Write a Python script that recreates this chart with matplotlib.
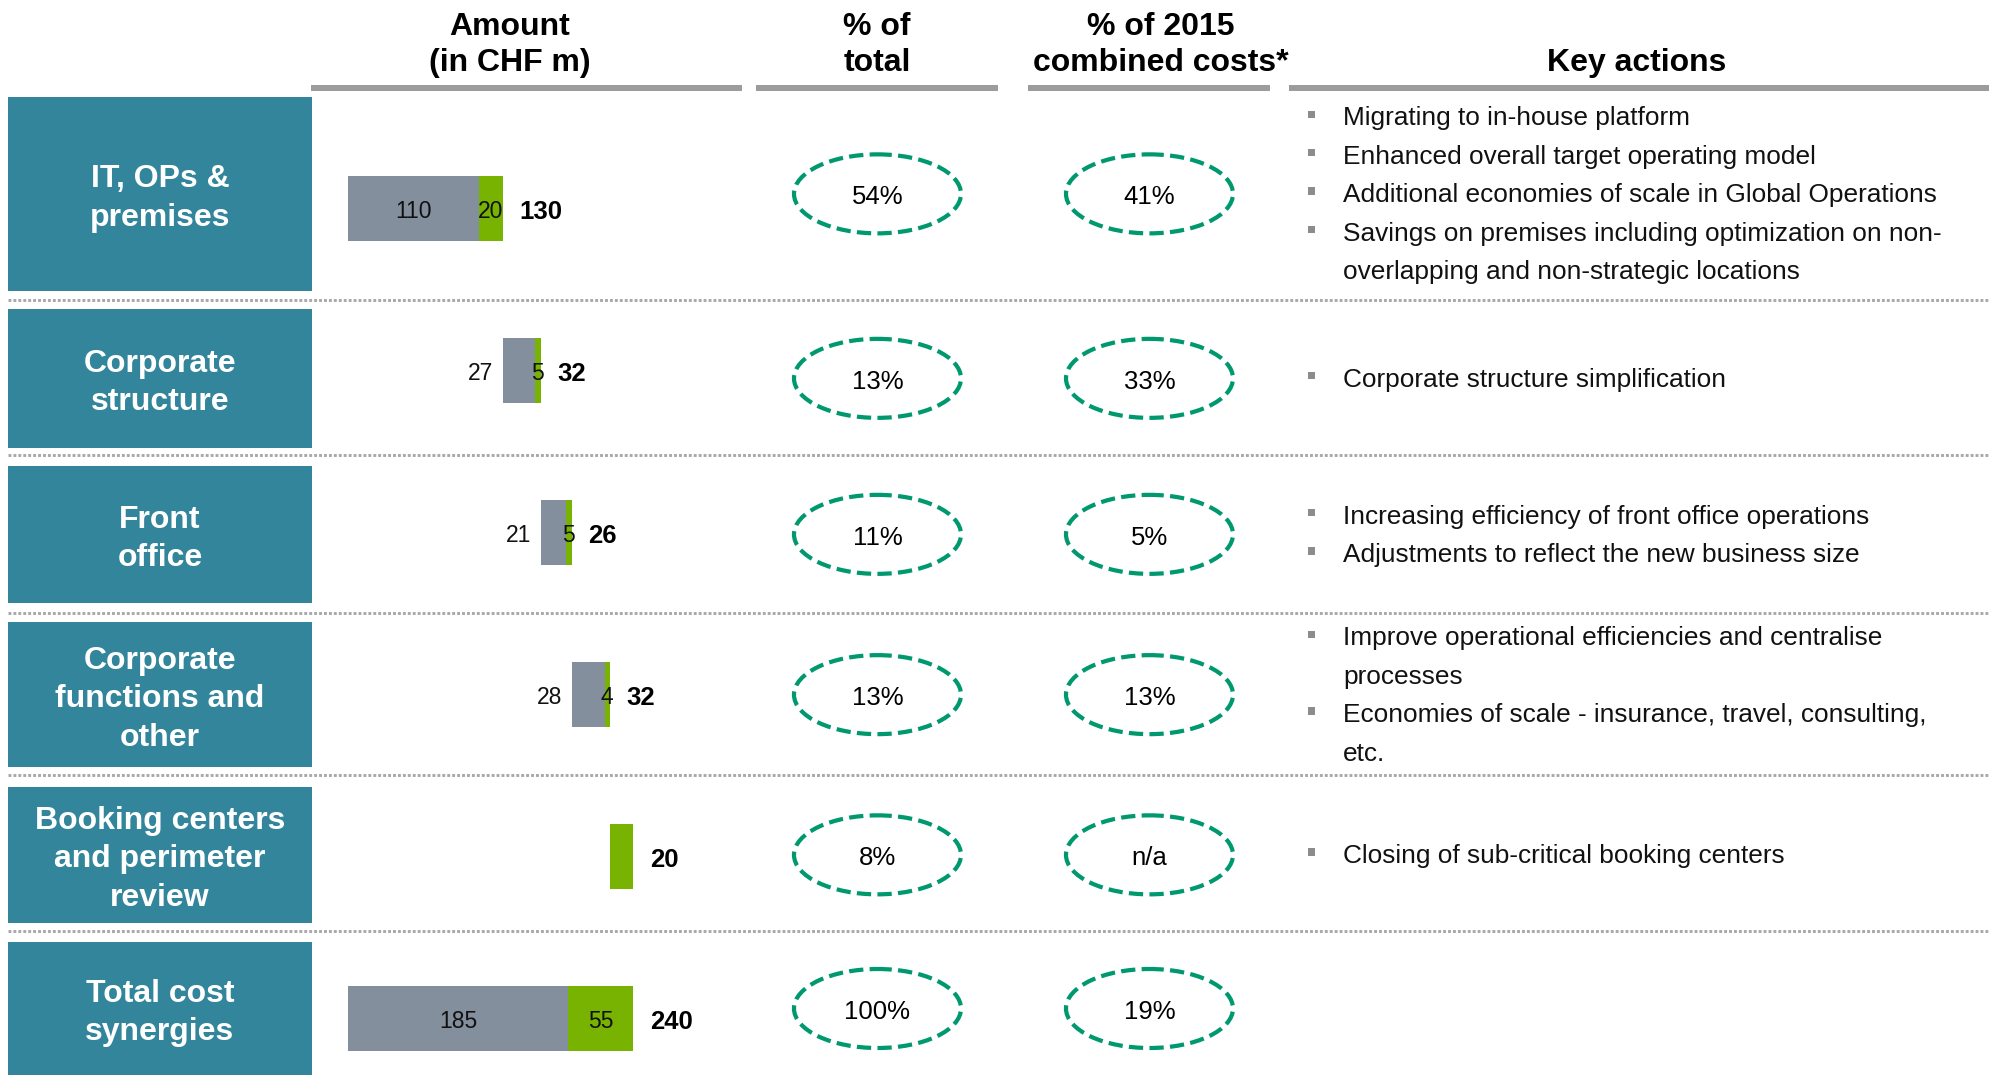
import matplotlib
matplotlib.use("Agg")
import matplotlib.pyplot as plt
from matplotlib.patches import Rectangle, Ellipse

plt.rcParams['font.family'] = ['Liberation Sans', 'DejaVu Sans']

# Cost synergies by area (CHF m): base part + additional part
categories = ["IT, OPs &\npremises", "Corporate\nstructure", "Front\noffice",
              "Corporate\nfunctions and\nother", "Booking centers\nand perimeter\nreview",
              "Total cost\nsynergies"]
base_amount = [110, 27, 21, 28, 0, 185]
extra_amount = [20, 5, 5, 4, 20, 55]
share_of_total = ["54%", "13%", "11%", "13%", "8%", "100%"]
share_of_2015 = ["41%", "33%", "5%", "13%", "n/a", "19%"]
key_actions = [
    ["Migrating to in-house platform",
     "Enhanced overall target operating model",
     "Additional economies of scale in Global Operations",
     "Savings on premises including optimization on non-\noverlapping and non-strategic locations"],
    ["Corporate structure simplification"],
    ["Increasing efficiency of front office operations",
     "Adjustments to reflect the new business size"],
    ["Improve operational efficiencies and centralise\nprocesses",
     "Economies of scale - insurance, travel, consulting,\netc."],
    ["Closing of sub-critical booking centers"],
    [],
]
column_headers = ["Amount\n(in CHF m)", "% of\ntotal", "% of 2015\ncombined costs*", "Key actions"]

TEAL = "#32859B"
GRAY_BAR = "#848F9D"
GREEN_BAR = "#77B300"
RING = "#00986F"
RULE = "#9C9C9C"

W, H = 1990, 1076
DPI = 100
PX = DPI / 72.0  # pixels per point
BODY = 18.9

fig = plt.figure(figsize=(W / DPI, (H - 0.01) / DPI), dpi=DPI)
fig.patch.set_facecolor("white")

# page layer in pixel units (y down)
lay = fig.add_axes([0, 0, 1, 1])
lay.set_xlim(0, W)
lay.set_ylim(H, 0)
lay.axis("off")


def stacked_lines(x, center, text, pitch, size, **kw):
    lines = text.split("\n")
    n = len(lines)
    cap = 0.358 * size * PX
    for k, line in enumerate(lines):
        y = center + (k - (n - 1) / 2) * pitch + cap
        lay.text(x, y, line, fontsize=size, va="baseline", **kw)


# column headers and their grey rules
head_x = [510, 877, 1161, 1637]
rule_spans = [(311, 742), (756, 998), (1028, 1270), (1289, W)]
for hx, label in zip(head_x, column_headers):
    lines = label.split("\n")
    if len(lines) == 1:
        lines = ["", lines[0]]
    for k, line in enumerate(lines):
        lay.text(hx, 35 + 36 * k, line, fontsize=23, fontweight="bold",
                 ha="center", va="baseline", color="black")
for x0, x1 in rule_spans:
    lay.plot([x0, x1], [89, 89], color=RULE, lw=6 / PX, solid_capstyle="butt")

# row boxes, dotted separators
box_rows = [(98, 291.7), (310, 448.7), (467, 603.7), (623, 768.3), (788, 923.7), (943, H)]
separators = [301, 456, 614, 776, 932]
for y in separators:
    lay.plot([8, W], [y, y], color="#A8A8A8", lw=2.9 / PX,
             linestyle=(0, (1.0, 0.7)), dash_capstyle="butt")

for i, (top, bottom) in enumerate(box_rows):
    lay.add_patch(Rectangle((8, top), 304, bottom - top, color=TEAL, lw=0))
    cy = (top + bottom) / 2
    stacked_lines(160, cy, categories[i], 38.5, 23, ha="center",
                  color="white", fontweight="bold")

    # dashed rings with the shares
    for cx, txt in ((877.5, share_of_total[i]), (1149.5, share_of_2015[i])):
        lay.add_patch(Ellipse((cx, cy), 167, 79, fill=False, ec=RING, lw=4.2 / PX,
                              linestyle=(0, (3.4, 1.5))))
        lay.text(cx, cy + 0.358 * 18.5 * PX, txt, fontsize=18.5, ha="center",
                 va="baseline", color="black")

    # key actions with square bullets
    items = key_actions[i]
    text_lines = []
    for item in items:
        for k, part in enumerate(item.split("\n")):
            text_lines.append((k == 0, part))
    n = len(text_lines)
    pitch = 38.4
    for k, (bullet, part) in enumerate(text_lines):
        yc = cy - 2 + (k - (n - 1) / 2) * pitch
        lay.text(1343, yc + 0.358 * BODY * PX, part, fontsize=BODY,
                 va="baseline", color="#111111")
        if bullet:
            lay.add_patch(Rectangle((1307.5, yc - 4.5), 7.5, 7.5, color="#8C8C8C", lw=0))

# waterfall bars on their own value axis
px_per_unit = 1.188
x_origin = 348.2
row_pitch = 162.0
first_row = 209.5
ax = fig.add_axes([0, 0, 1, 1])
ax.patch.set_alpha(0)
ax.set_xlim(-x_origin / px_per_unit, (W - x_origin) / px_per_unit)
ax.set_ylim((H - first_row) / row_pitch, -first_row / row_pitch)
ax.axis("off")

totals = [b + e for b, e in zip(base_amount, extra_amount)]
starts = []
running = 0
for t in totals[:-1]:
    starts.append(running)
    running += t
starts.append(0)
rows = list(range(len(categories)))
extra_left = [s + b for s, b in zip(starts, base_amount)]

ax.barh(rows, base_amount, left=starts, height=0.398, color=GRAY_BAR, lw=0)
ax.barh(rows, extra_amount, left=extra_left, height=0.398, color=GREEN_BAR, lw=0)

for i in rows:
    b, e, s = base_amount[i], extra_amount[i], starts[i]
    if b > 0:
        if b >= 60:
            ax.text(s + b / 2, i, str(b), fontsize=16.5, ha="center",
                    va="center_baseline", color="#111111")
        else:
            ax.annotate(str(b), (s, i), xytext=(-6.5, 0), textcoords="offset points",
                        fontsize=16.5, ha="right", va="center_baseline", color="#111111")
        ax.text(s + b + e / 2, i, str(e), fontsize=16.5, ha="center",
                va="center_baseline", color="#111111")
    ax.annotate(str(totals[i]), (s + b + e, i), xytext=(12.2, 0),
                textcoords="offset points", fontsize=18.5, fontweight="bold",
                ha="left", va="center_baseline", color="black")

fig.savefig("out.png", dpi=DPI)
